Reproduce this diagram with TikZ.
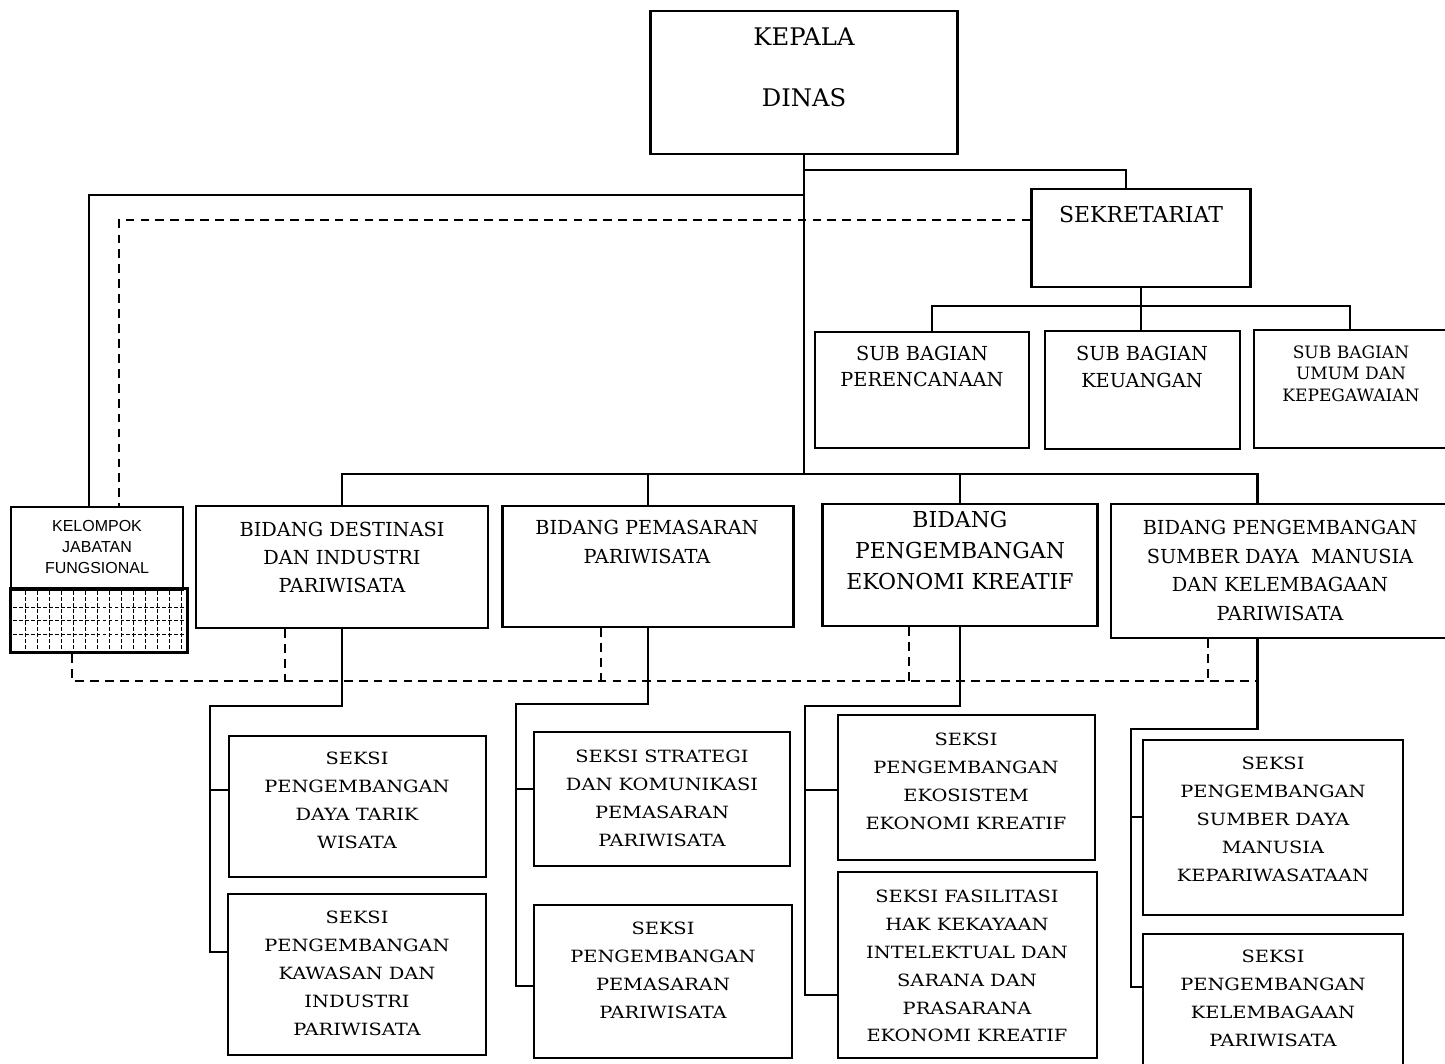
\documentclass[tikz,border=0pt]{standalone}
\usepackage{fontspec}
\setmainfont{DejaVu Serif}
\newfontfamily\seksifont[FakeStretch=1.15]{DejaVu Serif}
\newfontfamily\kjffont{Liberation Sans}

\tikzset{
    box/.style={draw, line width=1.25pt, inner sep=0pt},
    sz/.style 2 args={minimum width=#1*0.02cm, minimum height=#2*0.02cm},
    txt/.style={align=center, inner sep=0pt},
    bidtxt/.style={txt, font=\fontsize{11}{16.2}\selectfont},
    seksitxt/.style={txt, font=\seksifont\fontsize{9.6}{15.9}\selectfont},
    conn/.style={line width=1.25pt},
    dconn/.style={line width=1.25pt, dash pattern=on 5pt off 3.5pt},
    gridline/.style={line width=0.5pt, dash pattern=on 2.2pt off 1.2pt},
}

\begin{document}
\begin{tikzpicture}[x=0.02cm, y=-0.02cm]
        \useasboundingbox (0,0) rectangle (1445,1064);
        \clip (0,0) rectangle (1445,1064);

        % top level
        \node[box, sz={307}{143}] (kepala) at (804,82.5) {};
        \node[txt, font=\fontsize{13.8}{34.6}\selectfont] (kepala-t) at (804,67.5) {KEPALA\\DINAS};
        \node[box, sz={219}{98}] (sekr) at (1141,238) {};
        \node[txt, font=\fontsize{12.5}{15}\selectfont] (sekr-t) at (1141,215) {SEKRETARIAT};

        % sub bagian
        \node[box, sz={214}{116}] (subA) at (922,390) {};
        \node[box, sz={195}{118}] (subB) at (1142.5,390) {};
        \node[box, sz={206}{118}] (subC) at (1357,389) {};
        \node[txt, font=\fontsize{11}{15}\selectfont] (subA-t) at (922,366.5) {SUB BAGIAN\\PERENCANAAN};
        \node[txt, font=\fontsize{11}{15.5}\selectfont] (subB-t) at (1142,367) {SUB BAGIAN\\KEUANGAN};
        \node[txt, font=\fontsize{9.7}{12.2}\selectfont] (subC-t) at (1351,373.5) {SUB BAGIAN\\UMUM DAN\\KEPEGAWAIAN};

        % kelompok jabatan fungsional
        \node[box, sz={172}{83}] (kjf) at (97,548.5) {};
        \node[txt, font=\kjffont\fontsize{9.1}{12}\selectfont] (kjf-t) at (97,547) {KELOMPOK\\JABATAN\\FUNGSIONAL};
        \node[box, sz={178}{65}] (kjfgrid) at (99,620.5) {};
        \draw[line width=0.5pt] ([shift={(3,3)}]kjfgrid.north west) rectangle ([shift={(-3,-3)}]kjfgrid.south east);
        \foreach \x in {25,37,...,181}
            \draw[gridline] (\x,591) -- (\x,650);
        \foreach \y in {607,620,634}
            \draw[gridline] (13,\y) -- (185,\y);

        % bidang
        \node[box, sz={292}{122}] (bid1) at (342,567) {};
        \node[box, sz={291}{121}] (bid2) at (648,566.5) {};
        \node[box, sz={275}{122}] (bid3) at (960,565) {};
        \node[box, sz={349}{134}] (bid4) at (1285.5,571) {};
        \node[bidtxt] (bid1-t) at (342,557.5) {BIDANG DESTINASI\\DAN INDUSTRI\\PARIWISATA};
        \node[bidtxt] (bid2-t) at (647,542) {BIDANG PEMASARAN\\PARIWISATA};
        \node[txt, font=\fontsize{12.5}{17.9}\selectfont] (bid3-t) at (960,550.5) {BIDANG\\PENGEMBANGAN\\EKONOMI KREATIF};
        \node[bidtxt] (bid4-t) at (1280,570.5) {BIDANG PENGEMBANGAN\\SUMBER DAYA~~MANUSIA\\DAN KELEMBAGAAN\\PARIWISATA};

        % seksi
        \node[box, sz={257}{141}] (s11) at (357.5,806.5) {};
        \node[box, sz={258}{161}] (s12) at (357,974.5) {};
        \node[box, sz={256}{134}] (s21) at (662,799) {};
        \node[box, sz={258}{153}] (s22) at (663,981.5) {};
        \node[box, sz={257}{145}] (s31) at (966.5,787.5) {};
        \node[box, sz={259}{186}] (s32) at (967.5,965) {};
        \node[box, sz={260}{175}] (s41) at (1273,827.5) {};
        \node[box, sz={260}{141}] (s42) at (1273,1004.5) {};
        \node[seksitxt] (s11-t) at (357,800.5) {SEKSI\\PENGEMBANGAN\\DAYA TARIK\\WISATA};
        \node[seksitxt] (s12-t) at (357,973) {SEKSI\\PENGEMBANGAN\\KAWASAN DAN\\INDUSTRI\\PARIWISATA};
        \node[seksitxt] (s21-t) at (662,798) {SEKSI STRATEGI\\DAN KOMUNIKASI\\PEMASARAN\\PARIWISATA};
        \node[seksitxt] (s22-t) at (663,970) {SEKSI\\PENGEMBANGAN\\PEMASARAN\\PARIWISATA};
        \node[seksitxt] (s31-t) at (966,781) {SEKSI\\PENGEMBANGAN\\EKOSISTEM\\EKONOMI KREATIF};
        \node[seksitxt] (s32-t) at (967,966) {SEKSI FASILITASI\\HAK KEKAYAAN\\INTELEKTUAL DAN\\SARANA DAN\\PRASARANA\\EKONOMI KREATIF};
        \node[seksitxt] (s41-t) at (1273,819.5) {SEKSI\\PENGEMBANGAN\\SUMBER DAYA\\MANUSIA\\KEPARIWASATAAN};
        \node[seksitxt] (s42-t) at (1273,998.5) {SEKSI\\PENGEMBANGAN\\KELEMBAGAAN\\PARIWISATA};

        % lines from kepala dinas
        \draw[conn] (kepala.south) -- (kepala.south |- 0,474);
        \draw[conn] (kepala.south |- 0,170) -| ([xshift=-0.3cm]sekr.north);
        \draw[conn] (kepala.south |- 0,195) -| ([xshift=-0.16cm]kjf.north);
        \draw[dconn] (sekr.west |- 0,220) -| ([xshift=0.44cm]kjf.north);

        % sekretariat to sub bagian
        \draw[conn] (sekr.south) -- (sekr.south |- subB.north);
        \draw[conn] ([xshift=0.2cm]subA.north) |- (sekr.south |- 0,306) -| ([xshift=-0.14cm]subC.north);

        % bidang bus
        \draw[conn] (bid1.north) |- (kepala.south |- 0,474) -| ([xshift=-0.56cm]bid4.north);
        \draw[conn] (bid2.north) -- (bid2.north |- 0,474);
        \draw[conn] (bid3.north) -- (bid3.north |- 0,474);

        % dashed coordination lines
        \draw[dconn] ([xshift=-0.54cm]kjfgrid.south) |- ([xshift=-0.56cm]bid4.south |- 0,681);
        \foreach \b/\dx in {bid1/-1.14, bid2/-0.94, bid3/-1.02, bid4/-1.55}
            \draw[dconn] ([xshift=\dx cm]\b.south) -- ([xshift=\dx cm]\b.south |- 0,681);

        % bidang to seksi
        \coordinate (sp1) at (210,706);
        \coordinate (sp2) at (516,704);
        \coordinate (sp3) at (805,706);
        \coordinate (sp4) at (1131,729);
        \draw[conn] (bid1.south) |- (sp1) |- (s12.west |- 0,952);
        \draw[conn] (sp1 |- 0,790) -- (s11.west |- 0,790);
        \draw[conn] (bid2.south) |- (sp2) |- (s22.west |- 0,986);
        \draw[conn] (sp2 |- 0,789) -- (s21.west |- 0,789);
        \draw[conn] (bid3.south) |- (sp3) |- (s32.west |- 0,995);
        \draw[conn] (sp3 |- 0,790) -- (s31.west |- 0,790);
        \draw[conn] ([xshift=-0.56cm]bid4.south) |- (sp4) |- (s42.west |- 0,987);
        \draw[conn] (sp4 |- 0,817) -- (s41.west |- 0,817);
\end{tikzpicture}
\end{document}
